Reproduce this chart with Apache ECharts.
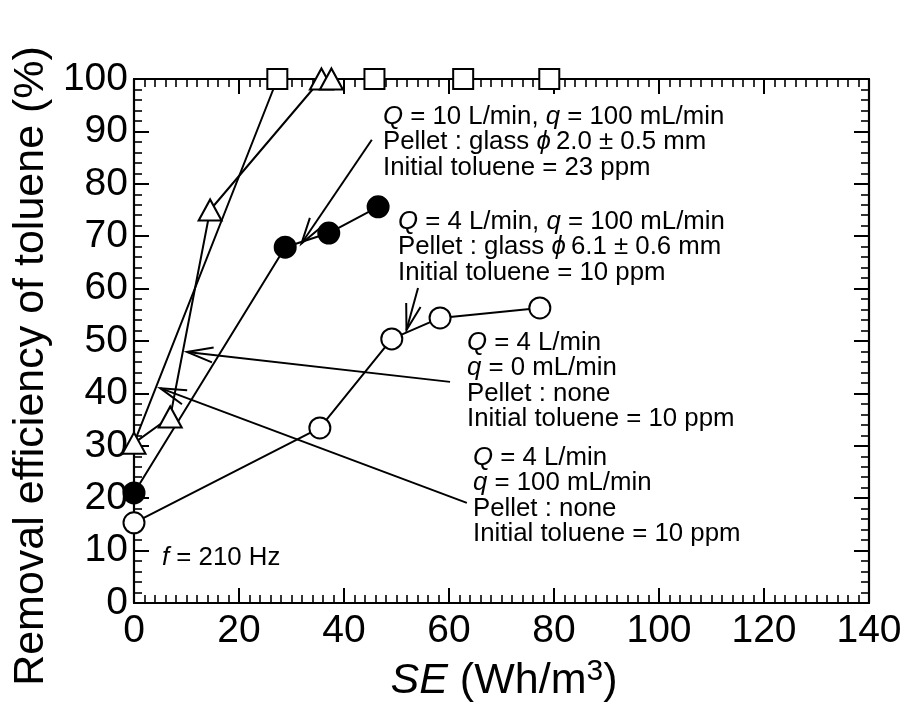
<!DOCTYPE html>
<html>
<head>
<meta charset="utf-8">
<script src="https://cdn.jsdelivr.net/npm/echarts@6/dist/echarts.min.js"></script>
<style>
html,body{margin:0;padding:0;background:#fff;}
#chart{width:912px;height:709px;}
</style>
</head>
<body>
<div id="chart"></div>
<script>
// ---- data ----
const xTickLabels = ['0','20','40','60','80','100','120','140'];
const yTickLabels = ['0','10','20','30','40','50','60','70','80','90','100'];

// open squares
const squareSeries = [[0, 30.5], [27.3, 100], [45.8, 100], [62.7, 100], [79.1, 100]];
// open triangles
const triangleSeries = [[0, 30.5], [6.9, 35.5], [14.5, 75], [35.7, 100], [37.6, 100]];
// filled circles (Q=10, glass 2.0 mm)
const filledCircleSeries = [[0, 21], [28.8, 67.9], [37.1, 70.6], [46.5, 75.6]];
// open circles (Q=4, glass 6.1 mm)
const openCircleSeries = [[0, 15.3], [35.4, 33.4], [49.1, 50.4], [58.3, 54.4], [77.3, 56.3]];

// annotation arrows: [tailX, tailY, headX, headY]
const arrowsData = [
  [60.2, 42.2, 10.1, 47.9],
  [63.4, 19.1, 5.0, 41.0],
  [45.3, 88.4, 31.9, 68.6],
  [54.1, 60.1, 51.9, 52.1]
];

const annotationTexts = [
  ['{i|Q} = 10 L/min, {i|q} = 100 mL/min', 'Pellet : glass {i|ϕ}\u20092.0 ± 0.5 mm', 'Initial toluene = 23 ppm'],
  ['{i|Q} = 4 L/min, {i|q} = 100 mL/min', 'Pellet : glass {i|ϕ}\u20096.1 ± 0.6 mm', 'Initial toluene = 10 ppm'],
  ['{i|Q} = 4 L/min', '{i|q} = 0 mL/min', 'Pellet : none', 'Initial toluene = 10 ppm'],
  ['{i|Q} = 4 L/min', '{i|q} = 100 mL/min', 'Pellet : none', 'Initial toluene = 10 ppm'],
  ['{i|f} = 210 Hz']
];

// ---- layout / styles ----
const FONT = '"Liberation Sans", Arial, sans-serif';
const annPos = [[383, 104], [398, 209], [467, 330], [473, 445], [162, 545]];
const ANN_SIZE = 25.8, ANN_LH = 25.5;

const chart = echarts.init(document.getElementById('chart'), null, {renderer: 'canvas'});

function axisCommon(showLabel, labels, step) {
  return {
    axisLine: {show: true, onZero: false, lineStyle: {color: '#000', width: 2.2}},
    axisTick: {show: true, inside: true, length: 15, lineStyle: {color: '#000', width: 2}},
    minorTick: {show: true, length: 8, lineStyle: {color: '#000', width: 1.6}},
    splitLine: {show: false},
    axisLabel: {
      show: showLabel, color: '#000', fontFamily: FONT, fontSize: 39,
      formatter: v => labels[Math.round(v / step)]
    }
  };
}

const xBase = {type: 'value', min: 0, max: 140, interval: 20};
const yBase = {type: 'value', min: 0, max: 100, interval: 10};

const lineStyle = {color: '#000', width: 2};
function mkSeries(data, symbol, size, fill, hideFirst) {
  return {
    type: 'line', data: data.map((d, i) => (hideFirst && i === 0) ? {value: d, symbol: 'none'} : d),
    symbol: symbol, symbolSize: size, showSymbol: true,
    lineStyle: lineStyle,
    itemStyle: {color: fill, borderColor: '#000', borderWidth: 2, opacity: 1},
    emphasis: {disabled: true},
    animation: false, clip: false, z: 3
  };
}

const graphics = [];
annotationTexts.forEach((lines, k) => {
  graphics.push({
    type: 'text', x: annPos[k][0], y: annPos[k][1], z: 10,
    style: {
      text: lines.join('\n'),
      fontFamily: FONT, fontSize: ANN_SIZE, fill: '#000',
      lineHeight: ANN_LH, verticalAlign: 'top', align: 'left',
      rich: {
        i: {fontFamily: FONT, fontSize: ANN_SIZE, fontStyle: 'italic', fill: '#000', lineHeight: ANN_LH}
      }
    }
  });
});
// axis titles
graphics.push({
  type: 'text', x: 31, y: 366, rotation: Math.PI / 2, z: 10,
  style: {
    text: 'Removal efficiency of toluene (%)', fontFamily: FONT, fontSize: 43, fill: '#000',
    align: 'center', verticalAlign: 'middle'
  }
});
graphics.push({
  type: 'text', x: 504, y: 681, z: 10,
  style: {
    text: '{i|SE} (Wh/m{s|3})', fontFamily: FONT, fontSize: 43, fill: '#000',
    align: 'center', verticalAlign: 'middle',
    rich: {
      i: {fontFamily: FONT, fontSize: 43, fontStyle: 'italic', fill: '#000', lineHeight: 48},
      s: {fontFamily: FONT, fontSize: 30, fill: '#000', verticalAlign: 'top', lineHeight: 48, padding: [0, 0, 14, 0]}
    }
  }
});

const option = {
  backgroundColor: '#fff',
  animation: false,
  grid: {left: 134, top: 79, right: 43, bottom: 106, containLabel: false, outerBoundsMode: 'none'},
  xAxis: [
    Object.assign({}, xBase, axisCommon(true, xTickLabels, 20), {position: 'bottom'}),
    Object.assign({}, xBase, axisCommon(false, xTickLabels, 20), {position: 'top'})
  ],
  yAxis: [
    Object.assign({}, yBase, axisCommon(true, yTickLabels, 10), {position: 'left'}),
    Object.assign({}, yBase, axisCommon(false, yTickLabels, 10), {position: 'right'})
  ],
  series: [
    {
      type: 'custom', data: arrowsData, coordinateSystem: 'cartesian2d',
      encode: {x: [0, 2], y: [1, 3]}, clip: false, z: 2, silent: true,
      renderItem: function (params, api) {
        const p1 = api.coord([api.value(0), api.value(1)]);
        const p2 = api.coord([api.value(2), api.value(3)]);
        const ang = Math.atan2(p1[1] - p2[1], p1[0] - p2[0]);
        const L = 27, a = 16 * Math.PI / 180;
        const b1 = [p2[0] + L * Math.cos(ang + a), p2[1] + L * Math.sin(ang + a)];
        const b2 = [p2[0] + L * Math.cos(ang - a), p2[1] + L * Math.sin(ang - a)];
        return {
          type: 'group', children: [
            {type: 'line', shape: {x1: p1[0], y1: p1[1], x2: p2[0], y2: p2[1]}, style: {stroke: '#000', lineWidth: 2}},
            {type: 'polyline', shape: {points: [b1, p2, b2]}, style: {stroke: '#000', lineWidth: 2, fill: null}}
          ]
        };
      }
    },
    mkSeries(squareSeries, 'rect', 20, '#fff', true),
    mkSeries(openCircleSeries, 'circle', 21, '#fff', false),
    mkSeries(filledCircleSeries, 'circle', 21, '#000', false),
    mkSeries(triangleSeries, 'triangle', [23, 21], '#fff', false)
  ],
  graphic: graphics
};
option.xAxis[0].axisLabel.margin = 9;
option.yAxis[0].axisLabel.margin = 6;
option.xAxis[0].minorTick.splitNumber = 10;
option.xAxis[1].minorTick.splitNumber = 10;
option.yAxis[0].minorTick.splitNumber = 5;
option.yAxis[1].minorTick.splitNumber = 5;

chart.setOption(option);
</script>
</body>
</html>
